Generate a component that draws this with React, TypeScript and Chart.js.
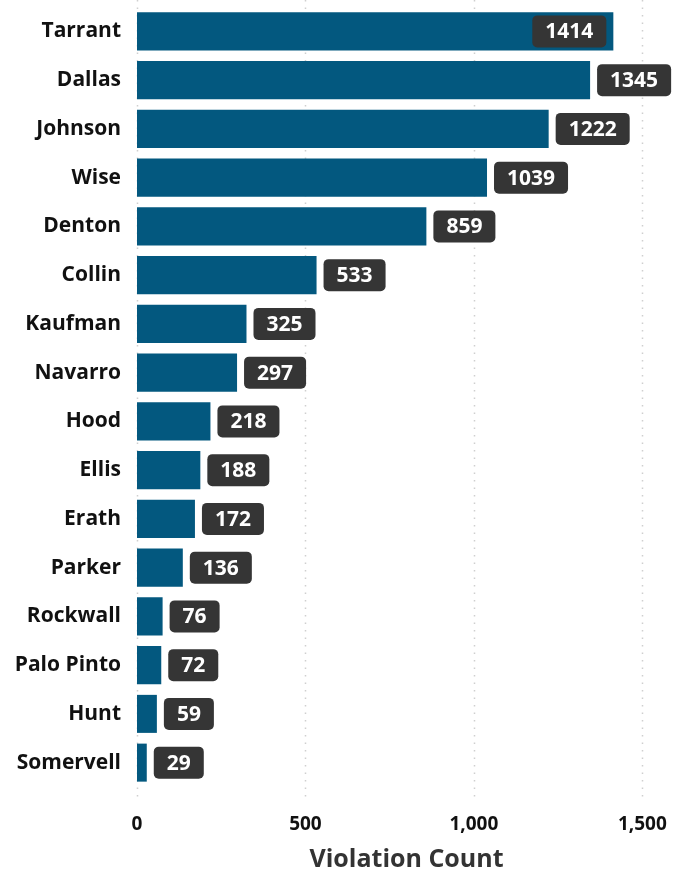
import React, { useEffect, useRef } from "react";
import { Chart, registerables } from "chart.js";

Chart.register(...registerables);

const counties = ["Tarrant","Dallas","Johnson","Wise","Denton","Collin","Kaufman","Navarro","Hood","Ellis","Erath","Parker","Rockwall","Palo Pinto","Hunt","Somervell"];
const violations = [1414,1345,1222,1039,859,533,325,297,218,188,172,136,76,72,59,29];
const xTicks = [0, 500, 1000, 1500];
const axisTitle = "Violation Count";

const FONT = "'Open Sans', 'Noto Sans', sans-serif";

const labelPlugin = {
  id: "boxLabels",
  afterDatasetsDraw(chart: any) {
    const ctx = chart.ctx;
    const meta = chart.getDatasetMeta(0);
    const area = chart.chartArea;
    ctx.save();
    ctx.font = `700 21px ${FONT}`;
    ctx.textBaseline = "middle";
    ctx.textAlign = "center";
    meta.data.forEach((bar: any, i: number) => {
      const text = String(violations[i]);
      const tw = ctx.measureText(text).width;
      const w = tw + 26;
      const h = 32;
      let left = bar.x + 7;
      if (left + w > area.right) left = bar.x - 7 - w;
      const top = bar.y - h / 2;
      ctx.fillStyle = "#353535";
      ctx.beginPath();
      (ctx as any).roundRect(left, top, w, h, 5);
      ctx.fill();
      ctx.fillStyle = "#ffffff";
      ctx.fillText(text, left + w / 2, bar.y + 1);
    });
    ctx.restore();
  },
};

const dotGrid = {
  id: "dotGrid",
  beforeDatasetsDraw(chart: any) {
    const ctx = chart.ctx;
    const xs = chart.scales.x;
    const a = chart.chartArea;
    ctx.save();
    ctx.strokeStyle = "#cfcfcf";
    ctx.lineWidth = 1.5;
    ctx.setLineDash([1.5, 6]);
    xTicks.forEach((v) => {
      const px = Math.round(xs.getPixelForValue(v)) + 0.5;
      ctx.beginPath();
      ctx.moveTo(px, 0);
      ctx.lineTo(px, a.bottom + 15);
      ctx.stroke();
    });
    ctx.restore();
  },
};

export default function App() {
  const ref = useRef<HTMLCanvasElement>(null);
  useEffect(() => {
    if (!ref.current) return;
    const chart = new Chart(ref.current, {
      type: "bar",
      data: {
        labels: counties,
        datasets: [{
          data: violations,
          backgroundColor: "#03587f",
          borderWidth: 0,
          barPercentage: 0.78,
          categoryPercentage: 1,
        }],
      },
      options: {
        indexAxis: "y",
        animation: false,
        responsive: false,
        maintainAspectRatio: false,
        layout: { padding: { top: 7, right: 0, left: 0, bottom: 0 } },
        plugins: { legend: { display: false }, tooltip: { enabled: false } },
        scales: {
          x: {
            min: 0,
            max: 1600,
            border: { display: false },
            grid: { display: false, drawTicks: false },
            ticks: {
              padding: 26,
              color: "#111",
              font: { family: FONT, size: 19, weight: "bold" },
              callback: (v: any) => Number(v).toLocaleString("en-US"),
            },
            afterBuildTicks: (s: any) => {
              s.ticks = xTicks.map((v) => ({ value: v }));
            },
            title: {
              display: true,
              text: axisTitle,
              color: "#333",
              font: { family: FONT, size: 25, weight: "bold" },
              padding: { top: 12, bottom: 0 },
            },
            afterFit: (s: any) => { s.height = 88; s.paddingLeft = 0; s.paddingRight = 0; },
          } as any,
          y: {
            border: { display: false },
            grid: { display: false, drawTicks: false },
            ticks: {
              padding: 16,
              color: "#111",
              font: { family: FONT, size: 21, weight: "bold" },
            },
            afterFit: (s: any) => { s.width = 137; s.paddingTop = 0; s.paddingBottom = 0; },
          } as any,
        },
      },
      plugins: [dotGrid, labelPlugin],
    } as any);
    return () => chart.destroy();
  }, []);
  return (
    <div style={{ position: "fixed", left: 0, top: 0, width: 676, height: 875, background: "#fff" }}>
      <canvas ref={ref} width={676} height={875} style={{ width: 676, height: 875 }} />
    </div>
  );
}
